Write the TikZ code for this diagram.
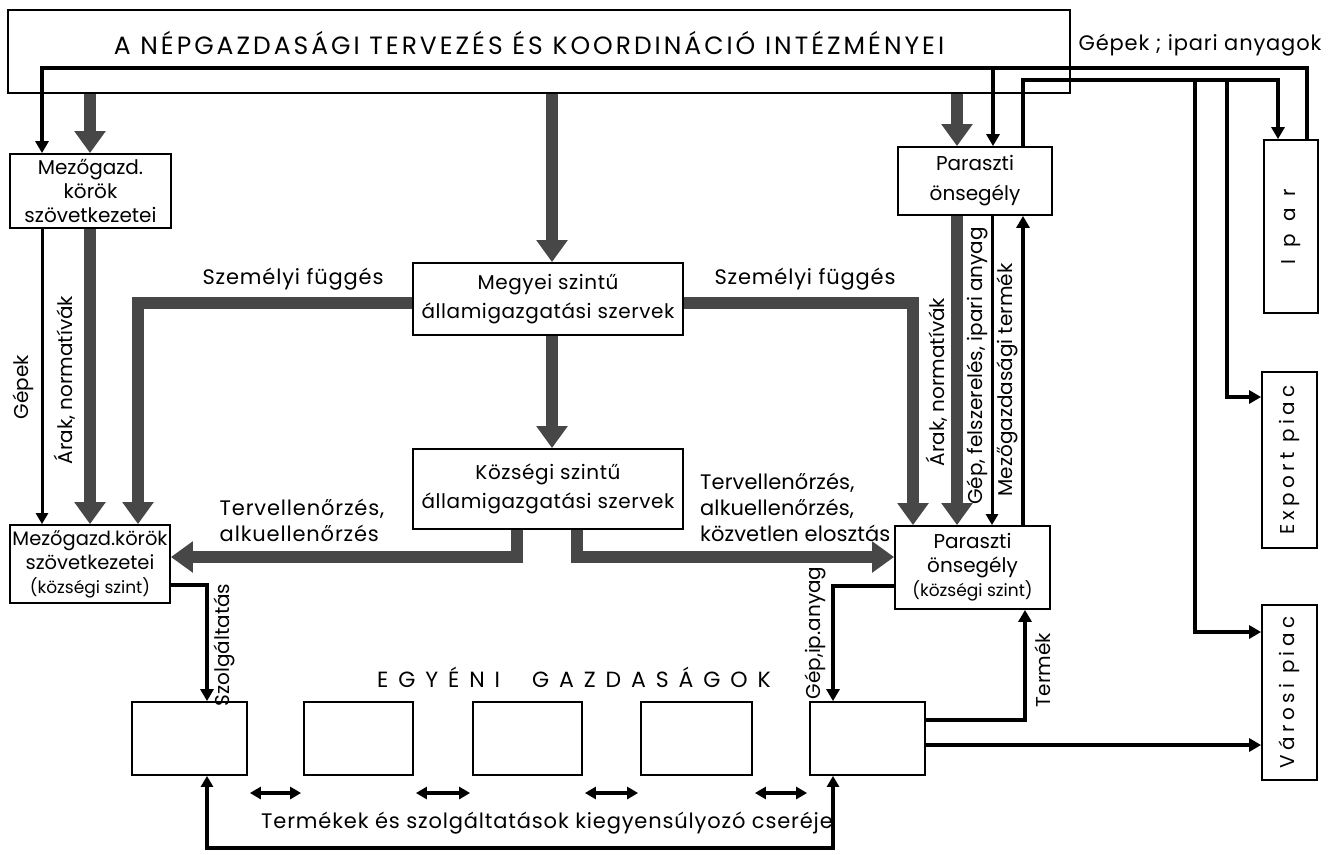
\documentclass[tikz,border=0pt]{standalone}
\usepackage{fontspec}
\setmainfont{Poppins}
\usetikzlibrary{arrows.meta}
\newcommand\myfs[2]{\fontsize{#1}{#2}\selectfont}
\newcommand\vtext[1]{\rotatebox{90}{#1}}
\begin{document}
\begin{tikzpicture}[x=1pt,y=-1pt,
  box/.style={draw,line width=1.8pt,inner sep=0pt,align=center,font=\myfs{20}{24}},
  lbl/.style={inner sep=0pt,font=\myfs{21}{26}\addfontfeatures{LetterSpace=4}},
  vlbl/.style={inner sep=0pt,rotate=90,font=\myfs{20}{24}},
  thk/.style={line width=12pt,draw=black!72,-{Triangle[width=30pt,length=22pt,fill=black!72]}},
  med/.style={line width=4.5pt,-{Triangle[width=13pt,length=12pt]}},
  thn/.style={line width=3pt,-{Triangle[width=12pt,length=11pt]}},
  dbl/.style={line width=4pt,{Triangle[width=12pt,length=11pt]}-{Triangle[width=12pt,length=11pt]}},
]
\fill[white] (0,0) rectangle (1330,854);
\useasboundingbox (0,0) rectangle (1330,854);

% boxes
\node[box,minimum width=1062pt,minimum height=83pt] (top) at (539,51.5) {};
\node[inner sep=0pt,font=\myfs{25}{30}\addfontfeatures{LetterSpace=12}] (title) at (529,43) {A NÉPGAZDASÁGI TERVEZÉS ÉS KOORDINÁCIÓ INTÉZMÉNYEI};
\node[box,minimum width=161pt,minimum height=74pt] (mk1) at (90.5,191) {Mezőgazd.\\körök\\szövetkezetei};
\node[box,minimum width=160pt,minimum height=78pt,font=\myfs{19.5}{24}] (mk2) at (90,564) {Mezőgazd.körök\\szövetkezetei\\{\myfs{17}{22}(községi szint)}};
\node[box,minimum width=270pt,minimum height=72pt,font=\myfs{20}{29}\addfontfeatures{LetterSpace=3}] (megyei) at (548,299) {Megyei szintű\\államigazgatási szervek};
\node[box,minimum width=270pt,minimum height=80pt,font=\myfs{20}{29}\addfontfeatures{LetterSpace=3}] (kozsegi) at (548,489) {Községi szintű\\államigazgatási szervek};
\node[box,minimum width=154pt,minimum height=68pt,font=\myfs{20}{30}] (po1) at (975,181) {Paraszti\\önsegély};
\node[box,minimum width=155pt,minimum height=83pt] (po2) at (972.5,567.5) {Paraszti\\önsegély\\{\myfs{17}{22}(községi szint)}};
\node[box,minimum width=54pt,minimum height=173pt] (ipar) at (1291,226.5) {\vtext{I\hspace{12pt}p\hspace{12pt}a\hspace{12pt}r}};
\node[box,minimum width=55pt,minimum height=176pt] (export) at (1289.5,460) {\vtext{\addfontfeatures{LetterSpace=22}Export piac}};
\node[box,minimum width=55pt,minimum height=175pt] (varosi) at (1289.5,692.5) {\vtext{\addfontfeatures{LetterSpace=22}Városi piac}};
\node[box,minimum width=115pt,minimum height=73pt] (g1) at (189.5,738.5) {};
\node[box,minimum width=109pt,minimum height=73pt] (g2) at (358.5,738.5) {};
\node[box,minimum width=109pt,minimum height=73pt] (g3) at (527.5,738.5) {};
\node[box,minimum width=111pt,minimum height=73pt] (g4) at (696.5,738.5) {};
\node[box,minimum width=115pt,minimum height=73pt] (g5) at (867.5,738.5) {};

% junctions
\coordinate (j1) at (993,68);
\coordinate (j2) at (1195,80);
\coordinate (j3) at (1227,80);

% thick connectors
\draw[thk] (top.south -| 90,0) -- (mk1.north -| 90,0);
\draw[thk] (mk1.south -| 90,0) -- (mk2.north -| 90,0);
\draw[thk] (top.south -| 552,0) -- (megyei.north -| 552,0);
\draw[thk] (megyei.south -| 552,0) -- (kozsegi.north -| 552,0);
\draw[thk] (top.south -| 957,0) -- (po1.north -| 957,0);
\draw[thk] (po1.south -| 957,0) -- (po2.north -| 957,0);
\draw[thk] (megyei.west |- 0,303) -- (138,303) -- (mk2.north -| 138,0);
\draw[thk] (megyei.east |- 0,303) -- (913,303) -- (po2.north -| 913,0);
\draw[thk] (kozsegi.south -| 517,0) -- (517,557) -- (mk2.east |- 0,557);
\draw[thk] (kozsegi.south -| 577,0) -- (577,557) -- (po2.west |- 0,557);

% medium connectors
\draw[med] (ipar.north -| 1307,0) -- (1307,68) -- (42,68) -- (mk1.north -| 42,0);
\draw[med] (j1) -- (po1.north -| 993,0);
\draw[med] (po1.north -| 1023,0) -- (1023,80) -- (1278,80) -- (ipar.north -| 1278,0);
\draw[med] (j2) -- (1195,632) -- (varosi.west |- 0,632);
\draw[med] (j3) -- (1227,397) -- (export.west |- 0,397);
\draw[thn] (mk1.south -| 42,0) -- (mk2.north -| 42,0);
\draw[thn] (po1.south -| 992,0) -- (po2.north -| 992,0);
\draw[med,line width=3.5pt] (po2.north -| 1023,0) -- (po1.south -| 1023,0);
\draw[med] (mk2.east |- 0,585) -- (207,585) -- (g1.north -| 207,0);
\draw[med] (po2.west |- 0,586) -- (833,586) -- (g5.north -| 833,0);
\draw[med] (g5.east |- 0,720) -- (1025,720) -- (po2.south -| 1025,0);
\draw[med] (g5.east |- 0,745) -- (varosi.west |- 0,745);
\draw[dbl] (g1.south -| 207,0) -- (207,848) -- (833,848) -- (g5.south -| 833,0);
\draw[dbl,shorten <=2pt,shorten >=2pt] (g1.east |- 0,793) -- (g2.west |- 0,793);
\draw[dbl,shorten <=2pt,shorten >=2pt] (g2.east |- 0,793) -- (g3.west |- 0,793);
\draw[dbl,shorten <=2pt,shorten >=2pt] (g3.east |- 0,793) -- (g4.west |- 0,793);
\draw[dbl,shorten <=2pt,shorten >=2pt] (g4.east |- 0,793) -- (g5.west |- 0,793);

% labels
\node[lbl] (szf1) at (293,279) {Személyi függés};
\node[lbl] (szf2) at (805,279) {Személyi függés};
\node[lbl,align=left] (tv1) at (302,520) {Tervellenőrzés,\\alkuellenőrzés};
\node[lbl,align=left,anchor=west,font=\myfs{21}{26}\addfontfeatures{LetterSpace=0.5}] (tv2) at (700,507) {Tervellenőrzés,\\alkuellenőrzés,\\közvetlen elosztás};
\node[lbl] (gia) at (1200,45) {Gépek ; ipari anyagok};
\node[vlbl] (l1) at (23,387) {Gépek};
\node[vlbl] (l2) at (65,380) {Árak, normatívák};
\node[vlbl] (l3) at (937,382) {Árak, normatívák};
\node[vlbl] (l4) at (977,366) {Gép, felszerelés, ipari anyag};
\node[vlbl] (l5) at (1007,380) {Mezőgazdasági termék};
\node[vlbl] (l6) at (815,633) {Gép,ip.anyag};
\node[vlbl] (l7) at (1043,670) {Termék};
\node[vlbl] (l8) at (224,645) {Szolgáltatás};
\node[lbl,font=\myfs{22}{26}\addfontfeatures{LetterSpace=45}] (eg) at (574,677) {EGYÉNI\hspace{32pt}GAZDASÁGOK};
\node[lbl] (tsz) at (547,823) {Termékek és szolgáltatások kiegyensúlyozó cseréje};
\end{tikzpicture}
\end{document}
